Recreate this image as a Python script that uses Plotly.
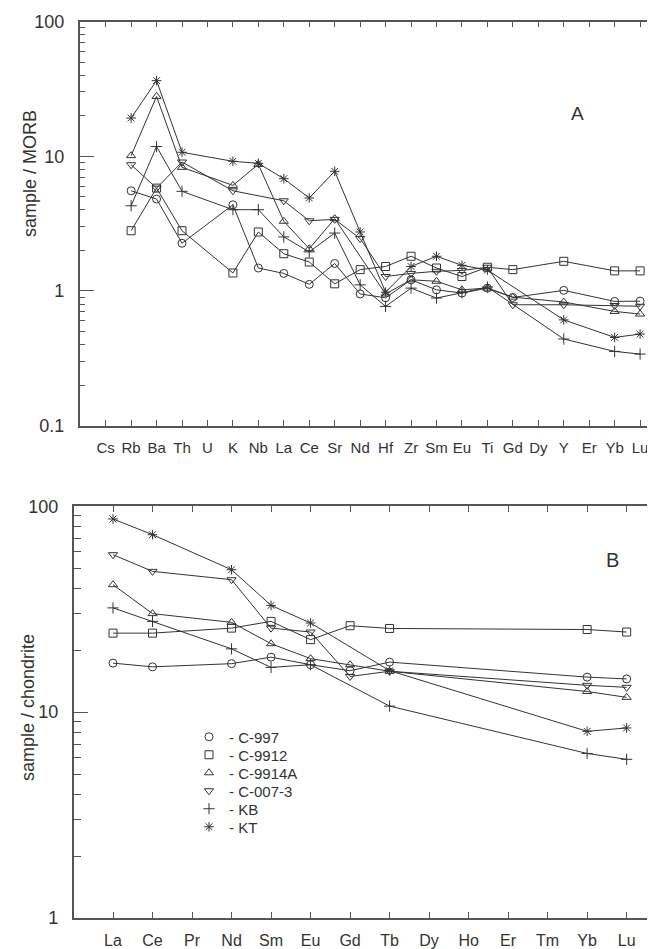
import plotly.graph_objects as go

W, H = 655, 949
N = None

# ---------------- data: panel A (sample / MORB) ----------------
top_cats = ["Cs", "Rb", "Ba", "Th", "U", "K", "Nb", "La", "Ce", "Sr", "Nd",
            "Hf", "Zr", "Sm", "Eu", "Ti", "Gd", "Dy", "Y", "Er", "Yb", "Lu"]
top_c997 = [N, 5.54, 4.81, 2.26, N, 4.36, 1.48, 1.35, 1.12, 1.6, 0.95,
            0.89, 1.21, 1.02, 0.965, 1.05, 0.895, N, 1.01, N, 0.837, 0.84]
top_c9912 = [N, 2.8, 5.8, 2.8, N, 1.36, 2.74, 1.89, 1.64, 1.13, 1.44,
             1.52, 1.81, 1.48, 1.28, 1.5, 1.44, N, 1.66, N, 1.41, 1.41]
top_c9914a = [N, 10.1, 27.8, 8.27, N, 6.08, 8.7, 3.29, 2.06, 3.44, N,
              0.95, 1.21, 1.18, 1.02, 1.05, 0.9, N, 0.828, N, 0.705, 0.674]
top_c0073 = [N, 8.65, 5.8, 9.06, N, 5.54, N, 4.67, 3.32, 3.4, 2.45,
             1.28, 1.35, 1.4, 1.42, 1.5, 0.79, N, 0.79, N, 0.78, 0.77]
top_kb = [N, 4.29, 11.8, 5.49, N, 4.01, 4.01, 2.52, 1.95, 2.69, 1.11,
          0.768, 1.05, 0.886, 0.97, 1.07, N, N, 0.44, N, 0.356, 0.34]
top_kt = [N, 19.2, 36.4, 10.7, N, 9.17, 8.86, 6.81, 4.9, 7.73, 2.74,
          0.98, 1.52, 1.81, 1.55, 1.43, N, N, 0.61, N, 0.452, 0.479]

# ---------------- data: panel B (sample / chondrite) ----------------
bot_cats = ["La", "Ce", "Pr", "Nd", "Sm", "Eu", "Gd", "Tb", "Dy", "Ho",
            "Er", "Tm", "Yb", "Lu"]
bot_c997 = [17.3, 16.6, N, 17.2, 18.5, 17.0, 15.9, 17.5, N, N, N, N, 14.8, 14.5]
bot_c9912 = [24.2, 24.2, N, 25.6, 27.6, 22.5, 26.3, 25.5, N, N, N, N, 25.2, 24.5]
bot_c9914a = [41.6, 30.1, N, 27.3, 21.5, 18.2, 17.0, 15.8, N, N, N, N, 12.6, 11.8]
bot_c0073 = [58.2, 48.3, N, 44.0, 25.6, 24.5, 14.9, 15.8, N, N, N, N, 13.5, 13.2]
bot_kb = [32.1, 27.6, N, 20.3, 16.5, 17.0, N, 10.7, N, N, N, N, 6.3, 5.9]
bot_kt = [86.8, 72.8, N, 49.2, 33.0, 27.1, N, 15.9, N, N, N, N, 8.07, 8.38]

names = ["C-997", "C-9912", "C-9914A", "C-007-3", "KB", "KT"]
symbols = ["circle-open", "square-open", "triangle-up-open",
           "triangle-down-open", "cross-thin-open", "asterisk-open"]
top_series = [top_c997, top_c9912, top_c9914a, top_c0073, top_kb, top_kt]
bot_series = [bot_c997, bot_c9912, bot_c9914a, bot_c0073, bot_kb, bot_kt]

FONT = "Liberation Sans, Arial, sans-serif"
INK = "#333333"
FRAME = "#555555"


def px_x(p):
    return p / W


def px_y(p):
    return 1 - p / H


fig = go.Figure()

for nm, sym, ys in zip(names, symbols, top_series):
    fig.add_trace(go.Scatter(
        x=top_cats, y=ys, mode="lines+markers", connectgaps=True,
        line=dict(color=INK, width=1),
        marker=dict(symbol=sym, size=8, color=INK, line=dict(color=INK, width=1)),
        xaxis="x", yaxis="y", showlegend=False, name=nm))

for nm, sym, ys in zip(names, symbols, bot_series):
    fig.add_trace(go.Scatter(
        x=bot_cats, y=ys, mode="lines+markers", connectgaps=True,
        line=dict(color=INK, width=1),
        marker=dict(symbol=sym, size=8, color=INK, line=dict(color=INK, width=1)),
        xaxis="x2", yaxis="y2", showlegend=False, name=nm))

# legend: one small legend per entry so the row spacing can follow the original
legend_rows = [729, 747, 765, 783, 801, 819]
legend_layout = {}
for i, (nm, sym) in enumerate(zip(names, symbols)):
    key = "legend" if i == 0 else "legend%d" % (i + 1)
    fig.add_trace(go.Scatter(
        x=[None], y=[None], mode="markers", name="- " + nm,
        marker=dict(symbol=sym, size=8, color=INK, line=dict(color=INK, width=1)),
        xaxis="x2", yaxis="y2", showlegend=True, legend=key))
    legend_layout[key] = dict(
        x=px_x(181), y=px_y(legend_rows[i]), xanchor="left", yanchor="middle",
        bgcolor="rgba(0,0,0,0)", font=dict(family=FONT, size=15, color=INK),
        itemwidth=30)

top_minor = [m * d for d in (0.1, 1, 10) for m in range(2, 10)]
bot_minor = [m * d for d in (1, 10) for m in range(2, 10)]

xaxis_common = dict(
    type="category", showline=True, mirror="ticks", linecolor=FRAME,
    linewidth=1.5, ticks="inside", ticklen=6, tickwidth=1, tickcolor=FRAME,
    showgrid=False, zeroline=False, automargin=False,
    tickfont=dict(family=FONT, size=16, color=INK))
yaxis_common = dict(
    type="log", showline=True, mirror="ticks", linecolor=FRAME, linewidth=1.5,
    ticks="inside", ticklen=15, tickwidth=1, tickcolor=FRAME, showgrid=False,
    zeroline=False, automargin=False,
    tickfont=dict(family=FONT, size=18, color=INK), ticklabelstandoff=10)

fig.update_layout(
    width=W, height=H,
    margin=dict(l=0, r=0, t=0, b=0, autoexpand=False),
    paper_bgcolor="white", plot_bgcolor="white",
    font=dict(family=FONT, color=INK),
    xaxis=dict(xaxis_common, domain=[px_x(71.7), 1], anchor="y",
               categoryorder="array", categoryarray=top_cats,
               range=[-1.02, 21.9], tickfont=dict(family=FONT, size=15, color=INK),
               ticklabelstandoff=8),
    yaxis=dict(yaxis_common, domain=[px_y(417.7), px_y(13.5)], anchor="x",
               range=[-1, 2], tickvals=[0.1, 1, 10, 100],
               ticktext=["0.1", "1", "10", "100"],
               minor=dict(tickvals=top_minor, ticks="inside", ticklen=6,
                          tickcolor=FRAME, tickwidth=1)),
    xaxis2=dict(xaxis_common, domain=[px_x(65.7), 1], anchor="y2",
                categoryorder="array", categoryarray=bot_cats,
                range=[-0.995, 13.92], ticklabelstandoff=7),
    yaxis2=dict(yaxis_common, domain=[px_y(910), px_y(498.3)], anchor="x2",
                range=[0, 2], tickvals=[1, 10, 100], ticktext=["1", "10", "100"],
                minor=dict(tickvals=bot_minor, ticks="inside", ticklen=8,
                           tickcolor=FRAME, tickwidth=1)),
    annotations=[
        dict(text="sample / MORB", x=px_x(22), y=px_y(166), xref="paper", yref="paper",
             xanchor="center", yanchor="middle", textangle=-90, showarrow=False,
             font=dict(family=FONT, size=18, color=INK)),
        dict(text="sample / chondrite", x=px_x(20), y=px_y(700), xref="paper", yref="paper",
             xanchor="center", yanchor="middle", textangle=-90, showarrow=False,
             font=dict(family=FONT, size=18, color=INK)),
        dict(text="A", x=px_x(569), y=px_y(106), xref="paper", yref="paper",
             xanchor="center", yanchor="middle", showarrow=False,
             font=dict(family=FONT, size=19, color=INK)),
        dict(text="B", x=px_x(604), y=px_y(552), xref="paper", yref="paper",
             xanchor="center", yanchor="middle", showarrow=False,
             font=dict(family=FONT, size=20, color=INK)),
    ],
)
fig.update_layout(**legend_layout)

fig.write_html("out.html")
